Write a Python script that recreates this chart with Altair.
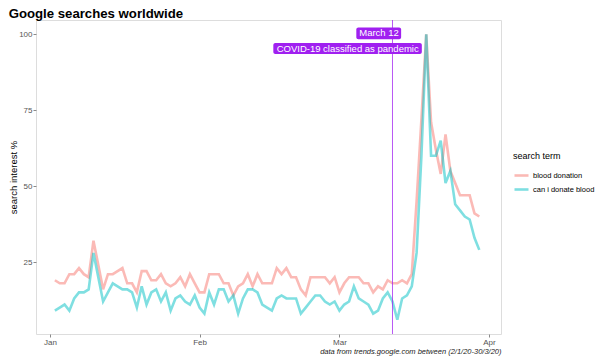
import altair as alt
import pandas as pd

# ---- data -------------------------------------------------------------
dates = pd.date_range("2020-01-02", "2020-03-30", freq="D").strftime("%Y-%m-%d").tolist()

blood_donation = [
    19, 18, 18, 21, 21, 23, 21, 20, 32, 24,
    16, 21, 21, 22, 23, 18, 18, 15, 22, 22,
    19, 19, 21, 18, 17, 18, 20, 17, 21, 18,
    15, 15, 21, 21, 21, 18, 18, 14, 17, 18,
    21, 17, 21, 18, 18, 18, 23, 21, 23, 20,
    20, 16, 14, 20, 20, 20, 20, 18, 20, 15,
    18, 20, 20, 20, 18, 18, 15, 17, 16, 19,
    18, 18, 19, 18, 21, 45, 72, 100, 71, 62,
    54, 67, 55, 51, 47, 47, 47, 41, 40,
]
can_i_donate_blood = [
    9, 10, 11, 9, 13, 15, 15, 16, 28, 20,
    12, 15, 18, 17, 16, 16, 15, 10, 17, 11,
    15, 16, 12, 15, 9, 13, 14, 12, 11, 14,
    10, 8, 15, 11, 16, 16, 12, 14, 8, 13,
    16, 16, 15, 11, 10, 9, 13, 14, 13, 13,
    13, 8, 10, 12, 14, 14, 12, 11, 12, 9,
    11, 12, 17, 13, 12, 11, 8, 9, 13, 15,
    12, 6, 13, 14, 17, 28, 60, 100, 60, 60,
    65, 51, 55, 44, 42, 40, 39, 33, 29,
]
terms = ["blood donation", "can i donate blood"]
term_colors = ["#F8766D", "#00BFC4"]

event_date = ["2020-03-12"]
label_texts = ["March 12", "COVID-19 classified as pandemic"]
label_x = ["2020-03-09T05:00:00Z", "2020-03-02T17:00:00Z"]
label_y = [100.3, 95.3]
box_x1 = ["2020-03-04T12:00:00Z", "2020-02-16T07:00:00Z"]
box_x2 = ["2020-03-13T19:00:00Z", "2020-03-18T02:00:00Z"]
box_y1 = [98.4, 93.5]
box_y2 = [102.2, 97.1]

month_ticks = [1, 2, 3, 4]
y_ticks = [25, 50, 75, 100]

# ---- tables -----------------------------------------------------------
df = pd.DataFrame({
    "date": dates * 2,
    "interest": blood_donation + can_i_donate_blood,
    "term": [terms[0]] * len(dates) + [terms[1]] * len(dates),
})
labels = pd.DataFrame({
    "text": label_texts, "x": label_x, "y": label_y,
    "x1": box_x1, "x2": box_x2, "y1": box_y1, "y2": box_y2,
})
event = pd.DataFrame({"date": event_date})

FONT = "Liberation Sans"

x_scale = alt.Scale(
    type="utc", nice=False,
    domain=[alt.DateTime(year=2019, month=12, date=29, hours=2, utc=True),
            alt.DateTime(year=2020, month=4, date=3, hours=12, utc=True)],
)
y_scale = alt.Scale(domain=[1.3, 104.7], nice=False, zero=False)

x_axis = alt.Axis(
    values=[alt.DateTime(year=2020, month=m, date=1, utc=True) for m in month_ticks],
    labelExpr="utcFormat(datum.value, '%b')", grid=False, domain=False,
    tickSize=3, tickColor="#8a8a8a", labelColor="#555555", labelFontSize=8,
    labelFont=FONT, labelPadding=1.5,
    title="data from trends.google.com between (2/1/20-30/3/20)",
    titleAnchor="end", titleFontStyle="italic", titleFontWeight="normal",
    titleFontSize=7.5, titleFont=FONT, titleColor="#222222", titlePadding=1,
)
y_axis = alt.Axis(
    values=y_ticks, grid=False, domain=False, tickSize=3, tickColor="#8a8a8a",
    labelColor="#555555", labelFontSize=8, labelFont=FONT, labelPadding=1,
    title="search interest %", titleFontWeight="normal", titleFontSize=9.5,
    titleFont=FONT, titleColor="black", titlePadding=0,
)

lines = alt.Chart(df).mark_line(strokeWidth=2.6, opacity=0.5).encode(
    x=alt.X("date:T", scale=x_scale, axis=x_axis),
    y=alt.Y("interest:Q", scale=y_scale, axis=y_axis),
    color=alt.Color(
        "term:N",
        scale=alt.Scale(domain=terms, range=term_colors),
        legend=alt.Legend(
            title="search term", orient="none", legendX=477, legendY=132,
            symbolType="stroke", symbolStrokeWidth=2.6, symbolSize=196,
            symbolOpacity=0.5, titleFontSize=9, titleFontWeight="normal",
            titleFont=FONT, titleColor="black", labelFont=FONT,
            labelFontSize=7.5, labelColor="black", rowPadding=0,
            titlePadding=6, labelOffset=3,
        ),
    ),
)

rule = alt.Chart(event).mark_rule(color="#A020F0", strokeWidth=1, opacity=0.75).encode(
    x=alt.X("date:T", scale=x_scale)
)

boxes = alt.Chart(labels).mark_rect(color="#A020F0", cornerRadius=2).encode(
    x=alt.X("x1:T", scale=x_scale), x2="x2:T",
    y=alt.Y("y1:Q", scale=y_scale), y2="y2:Q",
)
texts = alt.Chart(labels).mark_text(
    color="white", fontSize=9.5, font=FONT, align="center", baseline="middle"
).encode(
    x=alt.X("x:T", scale=x_scale), y=alt.Y("y:Q", scale=y_scale), text="text:N"
)

chart = alt.layer(lines, rule, boxes, texts).properties(
    width=465, height=314,
    autosize=alt.AutoSizeParams(type="none"),
    padding={"left": 28, "top": 12, "right": 94, "bottom": 24},
    title=alt.TitleParams(
        "Google searches worldwide", anchor="start", fontSize=13.2,
        font=FONT, fontWeight="bold", color="black", offset=-2,
    ),
).configure_view(stroke="#9a9a9a", strokeWidth=1).configure(background="white")

chart.save("out.html", embed_options={"renderer": "svg", "actions": False})
